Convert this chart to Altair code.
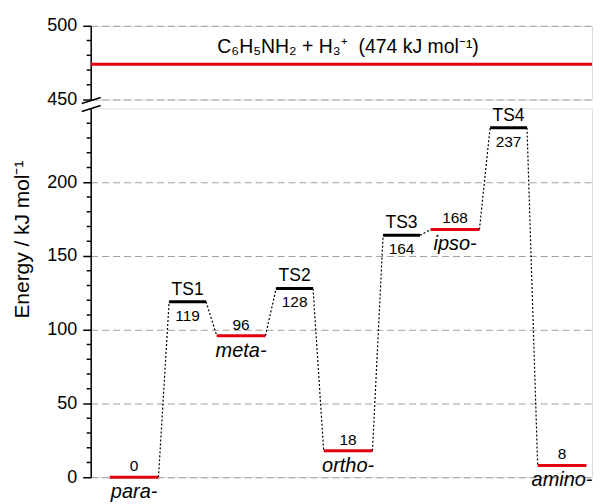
import altair as alt
import pandas as pd

# ---- data ----
states = ["para-", "TS1", "meta-", "TS2", "ortho-", "TS3", "ipso-", "TS4", "amino-"]
energies = [0, 119, 96, 128, 18, 164, 168, 237, 8]
reactant_energy = [474]
reactant_label = ["C₆H₅NH₂ + H₃⁺\u00a0\u00a0(474 kJ mol⁻¹)"]
upper_ticks = [450, 500]
upper_minor = [460, 470, 480, 490]
lower_ticks = [0, 50, 100, 150, 200]
lower_minor = [10, 20, 30, 40, 60, 70, 80, 90, 110, 120, 130, 140,
               160, 170, 180, 190, 210, 220, 230, 240]
y_title = "Energy / kJ mol⁻¹"

# ---- style ----
FONT = "Liberation Sans"
RED = "#e60012"
GRID = "#a0a0a0"
W = 503
H_UP = 74
H_LO = 370
HW = {"min": 0.456, "TS": 0.345}   # half-widths of the level bars (x units)

kinds = ["TS" if s.startswith("TS") else "min" for s in states]
levels = pd.DataFrame({
    "idx": list(range(len(states))),
    "state": states,
    "energy": energies,
    "kind": kinds,
})
levels["x1"] = levels["idx"] - levels["kind"].map(HW)
levels["x2"] = levels["idx"] + levels["kind"].map(HW)
levels["value"] = levels["energy"].astype(str)

conn = pd.DataFrame({
    "x1": [levels.loc[i, "x2"] for i in range(len(states) - 1)],
    "x2": [levels.loc[i + 1, "x1"] for i in range(len(states) - 1)],
    "y1": energies[:-1],
    "y2": energies[1:],
})

xscale = alt.Scale(domain=[-0.811, 8.56], nice=False, zero=False)
color_scale = alt.Scale(domain=["min", "TS"], range=[RED, "black"])

def make_axis(values, **kw):
    return alt.Axis(values=values, grid=True, gridDash=[7, 4], gridColor=GRID,
                    gridWidth=1, tickSize=8, tickColor="black", tickWidth=1.5,
                    domainColor="black", domainWidth=1.5, labelFontSize=18,
                    labelFont=FONT, labelColor="black", labelPadding=6,
                    titleFont=FONT, titleFontSize=21,
                    titleFontWeight="normal", titleColor="black", **kw)

# ---- upper panel (450-500) ----
up_df = pd.DataFrame({"energy": reactant_energy, "label": reactant_label,
                      "x": [(len(states) - 1) / 2]})
up_y = alt.Scale(domain=[450, 500], nice=False, zero=False)
up_line = alt.Chart(up_df).mark_rule(color=RED, strokeWidth=3).encode(
    y=alt.Y("energy:Q", scale=up_y, axis=make_axis(upper_ticks), title=None))
up_text = alt.Chart(up_df).mark_text(font=FONT, fontSize=19.5, baseline="alphabetic",
                                     dy=-11, color="black").encode(
    x=alt.X("x:Q", scale=xscale, axis=None),
    y=alt.Y("energy:Q", title=None), text="label:N")
up_minor = alt.Chart(pd.DataFrame({"v": upper_minor})).mark_rule(
    color="black", strokeWidth=1.5).encode(
    y=alt.Y("v:Q", title=None), x=alt.value(-4), x2=alt.value(0))
up_break = alt.Chart(pd.DataFrame({"a": [0]})).mark_rule(
    color="black", strokeWidth=1.5).encode(
    x=alt.value(-9), x2=alt.value(10), y=alt.value(H_UP + 4), y2=alt.value(H_UP - 2))
upper = alt.layer(up_line, up_text, up_minor, up_break).properties(
    width=W, height=H_UP)

# ---- lower panel (0-250) ----
lo_y = alt.Scale(domain=[0, 250], nice=False, zero=False)
lo_base = alt.Chart(levels)
lo_levels = lo_base.mark_rule(strokeWidth=3).encode(
    x=alt.X("x1:Q", scale=xscale, axis=None), x2="x2:Q",
    y=alt.Y("energy:Q", scale=lo_y, title=y_title,
            axis=make_axis(lower_ticks, titleX=-58, titleY=131,
                           titleAngle=270, titleBaseline="bottom",
                           titleAlign="center")),
    color=alt.Color("kind:N", scale=color_scale, legend=None))
lo_conn = alt.Chart(conn).mark_rule(strokeWidth=1.2, strokeDash=[2, 2],
                                    color="black").encode(
    x="x1:Q", x2="x2:Q", y=alt.Y("y1:Q", title=y_title), y2="y2:Q")
ts_name = lo_base.transform_filter(alt.datum.kind == "TS").mark_text(
    font=FONT, fontSize=17.5, baseline="alphabetic", dy=-7, color="black").encode(
    x="idx:Q", y=alt.Y("energy:Q", title=y_title), text="state:N")
ts_val = lo_base.transform_filter(alt.datum.kind == "TS").mark_text(
    font=FONT, fontSize=15.5, baseline="alphabetic", dy=19, color="black").encode(
    x="idx:Q", y=alt.Y("energy:Q", title=y_title), text="value:N")
min_val = lo_base.transform_filter(alt.datum.kind == "min").mark_text(
    font=FONT, fontSize=15.5, baseline="alphabetic", dy=-6, color="black").encode(
    x="idx:Q", y=alt.Y("energy:Q", title=y_title), text="value:N")
min_name = lo_base.transform_filter(alt.datum.kind == "min").mark_text(
    font=FONT, fontSize=20, fontStyle="italic", baseline="alphabetic", dy=21,
    color="black").encode(
    x="idx:Q", y=alt.Y("energy:Q", title=y_title), text="state:N")
lo_minor = alt.Chart(pd.DataFrame({"v": lower_minor})).mark_rule(
    color="black", strokeWidth=1.5).encode(
    y=alt.Y("v:Q", title=y_title), x=alt.value(-4), x2=alt.value(0))
lo_break = alt.Chart(pd.DataFrame({"a": [0]})).mark_rule(
    color="black", strokeWidth=1.5).encode(
    x=alt.value(-9), x2=alt.value(10), y=alt.value(3), y2=alt.value(-3))
lower = alt.layer(lo_levels, lo_conn, ts_name, ts_val, min_val, min_name,
                  lo_minor, lo_break).properties(width=W, height=H_LO)

chart = alt.vconcat(upper, lower, spacing=9, bounds="flush").properties(
    padding={"left": 3, "top": 7, "right": 0, "bottom": 0}
).configure_view(stroke=None).configure(background="white")

chart.save("out.html", embed_options={"renderer": "svg", "actions": False})
